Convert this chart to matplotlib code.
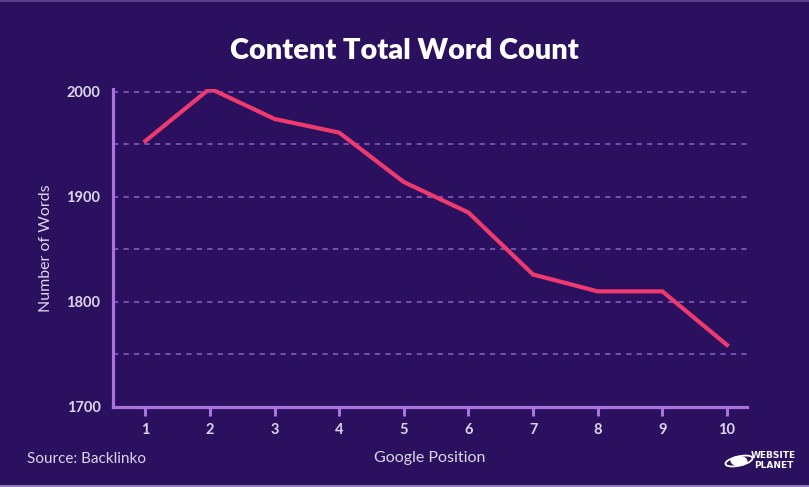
import matplotlib
matplotlib.use("Agg")
import matplotlib.pyplot as plt
from matplotlib.patches import Circle, Ellipse

positions = [1, 2, 3, 4, 5, 6, 7, 8, 9, 10]
word_counts = [1953, 2003, 1974, 1961, 1914, 1885, 1826, 1810, 1810, 1759]
y_ticks = [1700, 1800, 1900, 2000]
grid_levels = [1750, 1800, 1850, 1900, 1950, 2000]

BG = "#2b1060"
AXIS = "#a874dc"
GRID = "#7d56b8"
LINE = "#ee3a6e"
TEXT = "#ddd6ea"

plt.rcParams['font.family'] = ['Lato', 'DejaVu Sans']

fig = plt.figure(figsize=(8.09, 4.87), dpi=100, facecolor=BG)
ax = fig.add_axes([113/809, 1-407/487, (747-113)/809, (407-89)/487])
ax.set_facecolor(BG)

for g in grid_levels:
    ax.axhline(g, color=GRID, lw=1.3, dashes=(2.9, 2.9), zorder=1)

ax.plot(positions, word_counts, color=LINE, lw=3.0, solid_joinstyle='miter', zorder=3)

ax.set_xlim(0.5, 10.31)
ax.set_ylim(1700, 2002.5)
ax.set_xticks(positions)
ax.set_yticks(y_ticks)
ax.set_xticklabels([str(p) for p in positions], fontsize=10.5, fontweight='bold', color=TEXT)
ax.set_yticklabels([str(t) for t in y_ticks], fontsize=10.5, fontweight='bold', color=TEXT)

for s in ['top', 'right']:
    ax.spines[s].set_visible(False)
for s in ['left', 'bottom']:
    ax.spines[s].set_color(AXIS)
    ax.spines[s].set_linewidth(2.3)
ax.tick_params(axis='x', length=6.5, width=2.2, color=AXIS, pad=5)
ax.tick_params(axis='y', length=0, pad=9)

ax.set_xlabel("Google Position", fontsize=11.5, color=TEXT, labelpad=10)
ax.set_ylabel("Number of Words", fontsize=11.5, color=TEXT, labelpad=10)

fig.text(0.5, 1-51/487, "Content Total Word Count", ha='center', va='center',
         fontsize=20.8, fontweight='heavy', color='white')
fig.text(27/809, 1-459/487, "Source: Backlinko", ha='left', va='center',
         fontsize=11, color=TEXT)

# logo
fig.text(751/809, 1-455/487, "WEBSITE", ha='left', va='center', fontsize=6.5,
         fontweight='bold', color='white', family=['DejaVu Sans'])
fig.text(754/809, 1-466/487, "PLANET", ha='left', va='center', fontsize=6.5,
         fontweight='bold', color='white', family=['DejaVu Sans'])
lx, ly = 739/809, 1-461/487
fig.patches.append(Circle((lx, ly), 0.0105, transform=fig.transFigure,
                          facecolor='white', edgecolor='none'))
fig.patches.append(Ellipse((lx, ly), 0.036, 0.018, angle=25, transform=fig.transFigure,
                           facecolor='none', edgecolor='white', lw=1.3))

# thin border lines at top and bottom
fig.patches.append(plt.Rectangle((0, 1-2/487), 1, 2/487, transform=fig.transFigure,
                                 facecolor='#5a3f8a', edgecolor='none'))
fig.patches.append(plt.Rectangle((0, 0), 1, 2/487, transform=fig.transFigure,
                                 facecolor='#8f7ab8', edgecolor='none'))

fig.savefig("out.png", dpi=100, facecolor=BG)
